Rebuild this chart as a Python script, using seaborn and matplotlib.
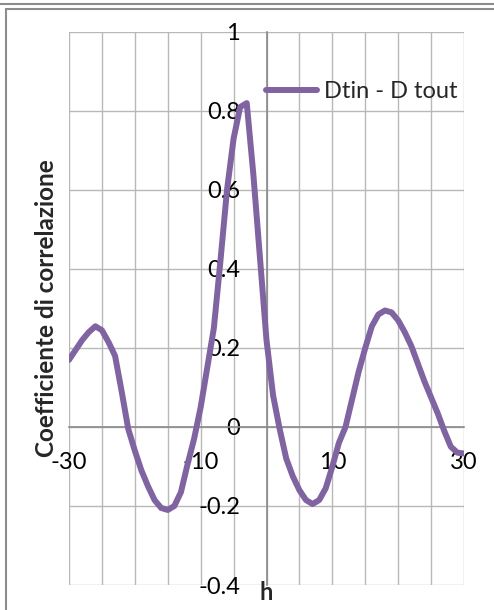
import numpy as np
import pandas as pd
import matplotlib
matplotlib.use("Agg")
import matplotlib.pyplot as plt
import seaborn as sns
from matplotlib.lines import Line2D

# ---- data ----
lags = list(range(-30, 31))
corr = [0.17, 0.195, 0.22, 0.24, 0.255, 0.245, 0.215, 0.18, 0.09, -0.005,
        -0.06, -0.11, -0.15, -0.185, -0.205, -0.21, -0.20, -0.165, -0.095, -0.03,
        0.05, 0.15, 0.25, 0.42, 0.60, 0.73, 0.81, 0.82, 0.64, 0.43,
        0.22, 0.08, -0.005, -0.08, -0.125, -0.16, -0.185, -0.195, -0.185, -0.155,
        -0.10, -0.04, 0.0, 0.07, 0.14, 0.20, 0.255, 0.285, 0.295, 0.29,
        0.27, 0.24, 0.205, 0.16, 0.115, 0.075, 0.035, -0.01, -0.05, -0.065,
        -0.067]
series_name = "Dtin - D tout"
x_tick_vals = [-30, -10, 10, 30]
x_tick_labels = ["-30", "-10", "10", "30"]
y_tick_vals = [-0.4, -0.2, 0.0, 0.2, 0.4, 0.6, 0.8, 1.0]
y_tick_labels = ["-0.4", "-0.2", "0", "0.2", "0.4", "0.6", "0.8", "1"]
x_label = "h"
y_label = "Coefficiente di correlazione"

df = pd.DataFrame({"h": lags, "r": corr, "serie": series_name})

sns.set_style("white")
plt.rcParams["font.family"] = ["Lato", "DejaVu Sans"]

W, H = 494, 610
fig = plt.figure(figsize=(W / 100, H / 100), dpi=100)
ax = fig.add_axes([69 / W, 1 - 585 / H, 395 / W, 553 / H])

sns.lineplot(data=df, x="h", y="r", hue="serie", palette=["#8064A2"],
             linewidth=4.3, ax=ax, legend=True, zorder=3)

ax.set_xlim(-30, 30)
ax.set_ylim(-0.4, 1.0)
ax.set_xticks(x_tick_vals)
ax.set_xticklabels(x_tick_labels)
ax.set_xticks(np.arange(-30, 31, 5), minor=True)
ax.set_yticks(y_tick_vals)
ax.set_yticklabels(y_tick_labels)
ax.grid(True, which="both", color="#b8b8b8", linewidth=1.0)
ax.set_axisbelow(True)

for s in ["top", "right"]:
    ax.spines[s].set_visible(False)
ax.spines["left"].set_position(("data", 0))
ax.spines["bottom"].set_position(("data", 0))
for s in ["left", "bottom"]:
    ax.spines[s].set_color("#8a8a8a")
    ax.spines[s].set_linewidth(1.2)

ax.tick_params(axis="both", which="both", length=0, labelsize=17, colors="black")
ax.tick_params(axis="y", pad=19)
ax.tick_params(axis="x", pad=18)

ax.set_xlabel("")
ax.set_ylabel("")
fig.text(266 / W, 1 - 593 / H, x_label, ha="center", va="center",
         fontsize=17, fontweight="bold")
fig.text(47 / W, 1 - 308 / H, y_label, ha="center", va="center",
         rotation=90, fontsize=17.5, fontweight="bold")

leg = ax.legend(loc="upper right", bbox_to_anchor=(467 / W, 1 - 72 / H),
                bbox_transform=fig.transFigure, frameon=False, fontsize=17,
                handlelength=2.15, handletextpad=0.3, borderaxespad=0)

# outer chart-area border lines (screenshot frame)
fig.add_artist(Line2D([0, 1], [1 - 4 / H, 1 - 4 / H], transform=fig.transFigure,
                      color="#8c8c8c", linewidth=1.5))
fig.add_artist(Line2D([6 / W, 1], [1 - 8.5 / H, 1 - 8.5 / H], transform=fig.transFigure,
                      color="#8c8c8c", linewidth=1.5))
fig.add_artist(Line2D([6 / W, 6 / W], [0, 1 - 8.5 / H], transform=fig.transFigure,
                      color="#8c8c8c", linewidth=1.5))

fig.savefig("out.png", dpi=100)
